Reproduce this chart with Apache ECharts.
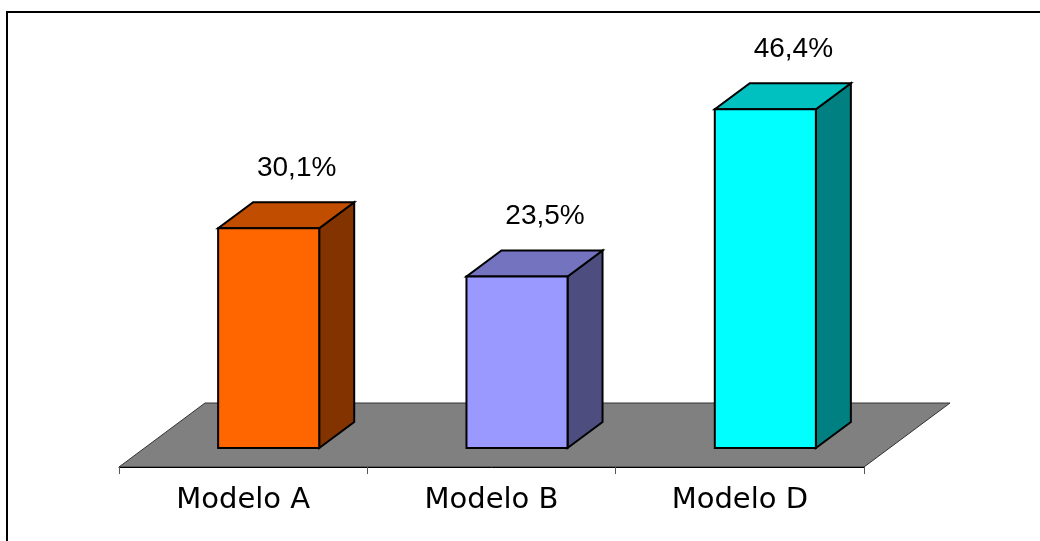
<!DOCTYPE html>
<html>
<head>
<meta charset="utf-8">
<script src="https://cdn.jsdelivr.net/npm/echarts@6/dist/echarts.min.js"></script>
<style>
    html, body { margin: 0; padding: 0; background: #fff; }
    #chart { width: 1040px; height: 541px; }
</style>
</head>
<body>
<div id="chart"></div>
<script>
// 数据
const categories = ['Modelo A', 'Modelo B', 'Modelo D'];
const values = [30.1, 23.5, 46.4];
const valueLabels = ['30,1%', '23,5%', '46,4%'];

// 每个柱子的三面颜色: 正面 / 顶面 / 侧面
const frontColors = ['#FF6600', '#9999FF', '#00FFFF'];
const topColors = ['#C04D00', '#7373C0', '#00C0C0'];
const sideColors = ['#833300', '#4D4D80', '#008080'];

document.addEventListener('DOMContentLoaded', function () {
    initChart();
});

function initChart() {
    const chartDom = document.getElementById('chart');
    const myChart = echarts.init(chartDom);

    // 3D 深度偏移
    const floorDepth = [86, -64];
    const barDepth = [35, -26];
    const barShift = [(floorDepth[0] - barDepth[0]) / 2, (floorDepth[1] - barDepth[1]) / 2];

    // 地板
    function renderFloor(params, api) {
        const cs = params.coordSys;
        const y0 = cs.y + cs.height - barShift[1];
        const x0 = cs.x;
        const x1 = cs.x + cs.width;
        return {
            type: 'polygon',
            shape: {
                points: [
                    [x0, y0],
                    [x1, y0],
                    [x1 + floorDepth[0], y0 + floorDepth[1]],
                    [x0 + floorDepth[0], y0 + floorDepth[1]]
                ]
            },
            style: { fill: '#808080', stroke: '#333', lineWidth: 1 }
        };
    }

    // 立体柱子
    function renderBar(params, api) {
        const i = api.value(0);
        const v = api.value(1);
        const base = api.coord([i, 0]);
        const topPt = api.coord([i, v]);
        const w = api.size([1, 0])[0] * 0.407;
        const left = base[0] + barShift[0] - w / 2;
        const right = left + w;
        const bottom = base[1];
        const top = topPt[1];
        const dx = barDepth[0], dy = barDepth[1];
        const edge = { stroke: '#000', lineWidth: 2, lineJoin: 'miter' };
        return {
            type: 'group',
            children: [
                {
                    type: 'polygon',
                    shape: { points: [[right, bottom], [right + dx, bottom + dy], [right + dx, top + dy], [right, top]] },
                    style: Object.assign({ fill: sideColors[i] }, edge)
                },
                {
                    type: 'polygon',
                    shape: { points: [[left, top], [right, top], [right + dx, top + dy], [left + dx, top + dy]] },
                    style: Object.assign({ fill: topColors[i] }, edge)
                },
                {
                    type: 'rect',
                    shape: { x: left, y: top, width: w, height: bottom - top },
                    style: Object.assign({ fill: frontColors[i] }, edge)
                },
                {
                    type: 'text',
                    style: {
                        x: (left + right) / 2 + 28,
                        y: top + dy - 34,
                        text: valueLabels[i],
                        fill: '#000',
                        font: '28px "Liberation Sans", Arial, sans-serif',
                        align: 'center',
                        verticalAlign: 'middle'
                    }
                }
            ]
        };
    }

    const option = {
        backgroundColor: '#fff',
        animation: false,
        grid: {
            left: 119,
            right: 176,
            top: 83,
            bottom: 93
        },
        xAxis: {
            type: 'category',
            data: categories,
            offset: 19,
            axisLine: { show: true, onZero: false, lineStyle: { color: '#000', width: 1 } },
            axisTick: { show: true, length: 7, lineStyle: { color: '#555' } },
            axisLabel: {
                color: '#000',
                fontFamily: '"DejaVu Sans", Verdana, sans-serif',
                fontSize: 29,
                margin: 19
            },
            z: 5
        },
        yAxis: {
            type: 'value',
            min: 0,
            max: 50,
            show: false
        },
        graphic: [
            {
                type: 'rect',
                shape: { x: 7, y: 12, width: 1200, height: 700 },
                style: { fill: 'none', stroke: '#000', lineWidth: 2 },
                silent: true
            }
        ],
        series: [
            {
                name: 'floor',
                type: 'custom',
                renderItem: renderFloor,
                data: [[0, 0]],
                z: 1
            },
            {
                name: 'bars',
                type: 'custom',
                renderItem: renderBar,
                data: values.map(function (v, i) { return [i, v]; }),
                z: 2
            }
        ]
    };

    myChart.setOption(option);

    window.addEventListener('resize', function () {
        myChart.resize();
    });
}
</script>
</body>
</html>
